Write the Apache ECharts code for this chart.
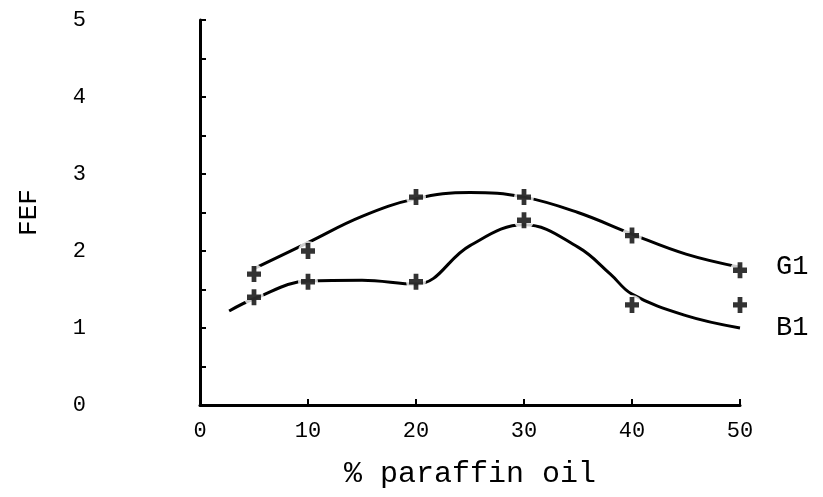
<!DOCTYPE html>
<html>
<head>
<meta charset="utf-8">
<title>FEF vs % paraffin oil</title>
<script src="https://cdn.jsdelivr.net/npm/echarts@6/dist/echarts.min.js"></script>
<style>
  html, body { margin: 0; padding: 0; background: #fff; }
  #chart { width: 823px; height: 497px; }
</style>
</head>
<body>
<div id="chart"></div>
<script>
// Axis ticks
const xTicks = [0, 10, 20, 30, 40, 50];
const yTickLabels = ['0', '1', '2', '3', '4', '5'];

// Measured points (% paraffin oil -> FEF)
const pctOil = [5, 10, 20, 30, 40, 50];
const g1Measured = [1.7, 2.0, 2.7, 2.7, 2.2, 1.75];
const b1Measured = [1.4, 1.6, 1.6, 2.4, 1.3, 1.3];

// Hand-fitted trend curves
const g1CurveX = [5, 10, 15, 20, 25, 30, 35, 40, 45, 50];
const g1CurveY = [1.77, 2.11, 2.45, 2.68, 2.76, 2.70, 2.50, 2.22, 1.96, 1.79];
const b1CurveX = [2.7, 5, 10, 15, 20, 25, 30, 35, 38, 40, 45, 50];
const b1CurveY = [1.22, 1.38, 1.61, 1.62, 1.57, 2.07, 2.34, 2.05, 1.70, 1.44, 1.16, 1.0];

const seriesNames = ['G1', 'B1'];

const pairs = (xs, ys) => xs.map((x, i) => [x, ys[i]]);

const INK = '#000';
const FONT = '"Liberation Mono", "DejaVu Sans Mono", monospace';
// bold plus sign used for the measured points
const crossMark = 'path://M3.3,0 H6.7 V3.3 H10 V6.7 H6.7 V10 H3.3 V6.7 H0 V3.3 H3.3 Z';

const curveSeries = (name, xs, ys) => ({
  name: name,
  type: 'line',
  data: pairs(xs, ys),
  smooth: 0.4,
  showSymbol: false,
  silent: true,
  z: 2,
  lineStyle: { color: INK, width: 3 },
  endLabel: {
    show: true,
    formatter: '{a}',
    distance: 36,
    color: INK,
    fontFamily: FONT,
    fontSize: 27
  }
});

// white halo under each mark so the curves break around it
const haloSeries = (ys) => ({
  type: 'scatter',
  data: pairs(pctOil, ys),
  symbol: 'circle',
  symbolSize: 20,
  silent: true,
  z: 4,
  itemStyle: { color: '#fff' }
});

const markSeries = (ys) => ({
  type: 'scatter',
  data: pairs(pctOil, ys),
  symbol: crossMark,
  symbolSize: [14, 16],
  z: 5,
  itemStyle: { color: INK }
});

const chart = echarts.init(document.getElementById('chart'), null, { renderer: 'canvas' });
chart.setOption({
  backgroundColor: '#fff',
  animation: false,
  grid: { left: 200, right: 83, top: 20, bottom: 92 },
  xAxis: {
    type: 'value',
    min: xTicks[0],
    max: xTicks[xTicks.length - 1],
    interval: xTicks[1] - xTicks[0],
    name: '% paraffin oil',
    nameLocation: 'middle',
    nameGap: 54,
    nameTextStyle: { color: INK, fontFamily: FONT, fontSize: 30 },
    axisLine: { show: true, onZero: false, lineStyle: { color: INK, width: 3 } },
    axisTick: { show: true, inside: true, length: 6, lineStyle: { color: INK, width: 2 } },
    splitLine: { show: false },
    axisLabel: { color: INK, fontFamily: FONT, fontSize: 22, margin: 15 }
  },
  yAxis: {
    type: 'value',
    min: 0,
    max: 5,
    interval: 0.5,
    name: 'FEF',
    nameLocation: 'middle',
    nameRotate: 90,
    nameGap: 158,
    nameTextStyle: { color: INK, fontFamily: FONT, fontSize: 26 },
    axisLine: { show: true, onZero: false, lineStyle: { color: INK, width: 3 } },
    axisTick: { show: true, inside: true, length: 6, lineStyle: { color: INK, width: 2 } },
    splitLine: { show: false },
    axisLabel: {
      color: INK,
      fontFamily: FONT,
      fontSize: 22,
      margin: 114,
      formatter: v => Number.isInteger(v) ? yTickLabels[v] : ''
    }
  },
  series: [
    curveSeries(seriesNames[0], g1CurveX, g1CurveY),
    curveSeries(seriesNames[1], b1CurveX, b1CurveY),
    haloSeries(g1Measured),
    haloSeries(b1Measured),
    markSeries(g1Measured),
    markSeries(b1Measured)
  ]
});
</script>
</body>
</html>
